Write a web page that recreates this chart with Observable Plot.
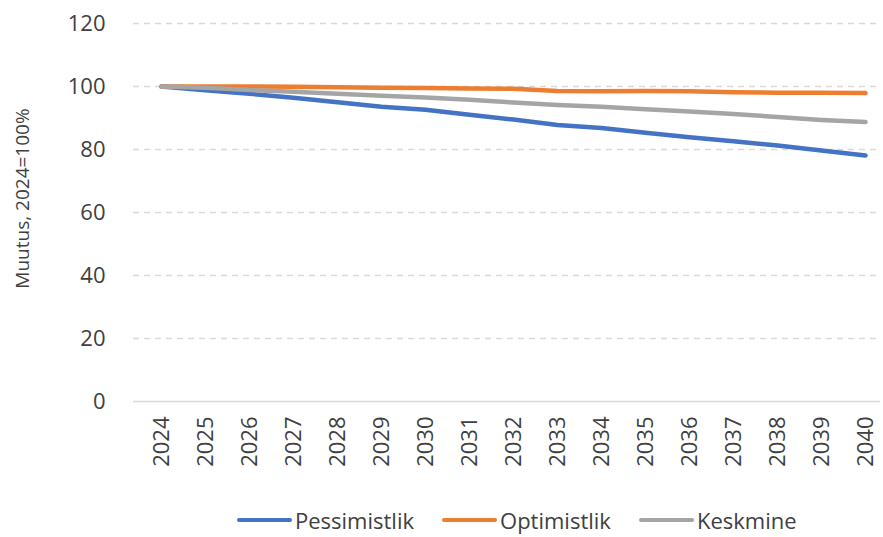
<!DOCTYPE html>
<html><head><meta charset="utf-8">
<script src="https://cdn.jsdelivr.net/npm/d3@7"></script>
<script src="https://cdn.jsdelivr.net/npm/@observablehq/plot@0.6"></script>
<style>
html,body{margin:0;padding:0;background:#fff;overflow:hidden;font-family:"Open Sans",sans-serif;}
#chart svg{max-width:none !important;display:block;}
#legend{position:absolute;left:237px;top:505px;height:30px;line-height:30px;font-size:22px;color:#404040;display:flex;align-items:center;white-space:nowrap;}
#legend .item{display:flex;align-items:center;margin-right:28px;}
#legend .sw{display:inline-block;width:55px;height:4.5px;border-radius:2.5px;margin-right:3px;}
</style></head>
<body>
<div id="chart"></div>
<div id="legend"></div>
<script>
const years = ["2024","2025","2026","2027","2028","2029","2030","2031","2032","2033","2034","2035","2036","2037","2038","2039","2040"];
const seriesNames = ["Pessimistlik","Optimistlik","Keskmine"];
const colors = ["#4472c4","#ed7d31","#a5a5a5"];
const pessimistlik = [100,98.8,97.7,96.4,95.0,93.6,92.6,91.0,89.5,87.8,86.8,85.3,83.9,82.6,81.3,79.7,78.1];
const optimistlik = [100,100,100,99.9,99.8,99.6,99.5,99.4,99.3,98.6,98.5,98.6,98.5,98.2,98.0,98.0,97.9];
const keskmine = [100,99.6,98.9,98.3,97.7,97.1,96.5,95.8,94.9,94.1,93.6,92.8,92.1,91.3,90.3,89.4,88.7];
const yTicks = [0,20,40,60,80,100,120];
const yLabel = "Muutus, 2024=100%";

const values = [pessimistlik, optimistlik, keskmine];
const data = [];
seriesNames.forEach((s,i)=>years.forEach((y,j)=>data.push({series:s, year:y, value:values[i][j]})));

const chart = Plot.plot({
  width: 883, height: 500,
  marginLeft: 133, marginRight: 3, marginTop: 23, marginBottom: 99,
  style: {fontFamily: "Open Sans, sans-serif", color: "#404040", overflow: "visible"},
  x: {type: "point", domain: years, range: [155, 871], padding: 0, label: null},
  y: {domain: [0,120], ticks: yTicks, label: null},
  color: {domain: seriesNames, range: colors},
  marks: [
    Plot.gridY(yTicks.filter(d=>d>0), {stroke: "#d9d9d9", strokeOpacity: 1, strokeDasharray: "6,5", strokeWidth: 1.3}),
    Plot.ruleY([0], {stroke: "#d9d9d9", strokeWidth: 1.5}),
    Plot.axisY({ticks: yTicks, tickSize: 0, tickPadding: 28, fontSize: 22, label: null}),
    Plot.axisX({tickSize: 0, tickPadding: 15, tickRotate: -90, fontSize: 22, label: null}),
    Plot.text([yLabel], {frameAnchor: "left", textAnchor: "middle", rotate: -90, dx: -111, dy: -14, fontSize: 19, fill: "#404040"}),
    Plot.line(data, {x: "year", y: "value", z: "series", stroke: "series", strokeWidth: 4.5, strokeLinecap: "round", strokeLinejoin: "round"})
  ]
});
document.getElementById("chart").appendChild(chart);

const lg = document.getElementById("legend");
seriesNames.forEach((s,i)=>{
  const it = document.createElement("span"); it.className="item";
  const sw = document.createElement("span"); sw.className="sw"; sw.style.background=colors[i];
  it.appendChild(sw); it.appendChild(document.createTextNode(s)); lg.appendChild(it);
});
</script>
</body></html>
